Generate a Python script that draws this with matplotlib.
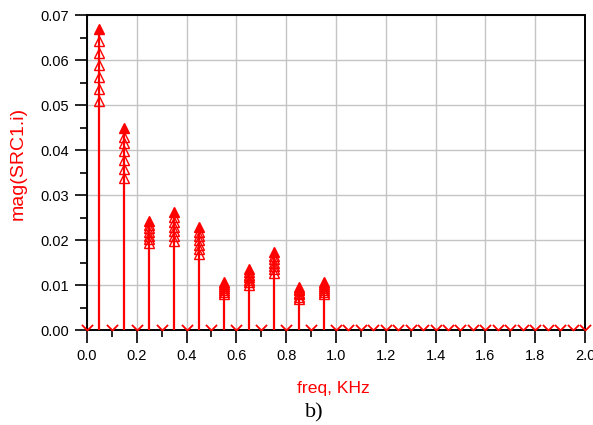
import numpy as np
import matplotlib
matplotlib.use("Agg")
import matplotlib.pyplot as plt
from matplotlib.path import Path

# harmonic frequencies (kHz) with non-zero magnitude
harm_freq = [0.05, 0.15, 0.25, 0.35, 0.45, 0.55, 0.65, 0.75, 0.85, 0.95]
# stacked sweep values at each harmonic (top first)
harm_vals = [
    [0.0670, 0.0643, 0.0616, 0.0590, 0.0562, 0.0535, 0.0509],
    [0.0449, 0.0430, 0.0415, 0.0397, 0.0378, 0.0358, 0.0338],
    [0.0242, 0.0234, 0.0226, 0.0218, 0.0210, 0.0202, 0.0194],
    [0.0263, 0.0252, 0.0241, 0.0230, 0.0219, 0.0208, 0.0197],
    [0.0228, 0.0218, 0.0209, 0.0199, 0.0189, 0.0180, 0.0170],
    [0.0107, 0.0102, 0.0098, 0.0094, 0.0089, 0.0085, 0.0080],
    [0.0135, 0.0129, 0.0123, 0.0118, 0.0112, 0.0106, 0.0100],
    [0.0173, 0.0165, 0.0158, 0.0150, 0.0142, 0.0135, 0.0127],
    [0.0096, 0.0092, 0.0088, 0.0083, 0.0079, 0.0074, 0.0070],
    [0.0107, 0.0102, 0.0098, 0.0094, 0.0089, 0.0085, 0.0080],
]
# frequencies with zero magnitude
zero_freq = [0.0, 0.1, 0.2, 0.3, 0.4, 0.5, 0.6, 0.7, 0.8, 0.9, 1.0,
             1.05, 1.1, 1.15, 1.2, 1.25, 1.3, 1.35, 1.4, 1.45, 1.5,
             1.55, 1.6, 1.65, 1.7, 1.75, 1.8, 1.85, 1.9, 1.95, 2.0]
zero_vals = [0.0] * len(zero_freq)

xticks = [0.0, 0.2, 0.4, 0.6, 0.8, 1.0, 1.2, 1.4, 1.6, 1.8, 2.0]
yticks = [0.00, 0.01, 0.02, 0.03, 0.04, 0.05, 0.06, 0.07]

RED = "#ff0000"
fig = plt.figure(figsize=(5.93, 4.25), dpi=100)
ax = fig.add_axes([0.1467, 0.2235, 0.8398, 0.7412])

ax.grid(True, color="#c4c4c4", linewidth=1.0, zorder=0)
ax.set_axisbelow(True)

for f, vals in zip(harm_freq, harm_vals):
    ax.plot([f, f], [0, max(vals)], color=RED, linewidth=1.6, zorder=3,
            solid_capstyle="butt")
    ax.plot([f] * (len(vals) - 1), vals[1:], linestyle="none", marker="^",
            markersize=6.5, markerfacecolor="none", markeredgecolor=RED,
            markeredgewidth=1.0, zorder=4)
    ax.plot([f], [vals[0]], linestyle="none", marker="^", markersize=6.5,
            markerfacecolor=RED, markeredgecolor=RED, markeredgewidth=1.0,
            zorder=5)

chevron = Path([(-1, 1), (0, 0), (1, 1)],
               [Path.MOVETO, Path.LINETO, Path.LINETO])
ax.plot(zero_freq, zero_vals, linestyle="none", marker=chevron,
        markersize=8, markerfacecolor="none", markeredgecolor=RED,
        markeredgewidth=1.3, zorder=6, clip_on=False)

ax.set_xlim(0, 2.0)
ax.set_ylim(0, 0.07)
ax.set_xticks(xticks)
ax.set_xticklabels([f"{t:.1f}" for t in xticks])
ax.set_yticks(yticks)
ax.set_yticklabels([f"{t:.2f}" for t in yticks])
ax.set_xticks(np.arange(0.1, 2.0, 0.2), minor=True)
ax.set_yticks(np.arange(0.005, 0.07, 0.01), minor=True)

lab_font = dict(family="Liberation Sans", size=10.5)
for lbl in ax.get_xticklabels() + ax.get_yticklabels():
    lbl.set_fontfamily("Liberation Sans")
    lbl.set_fontsize(10.5)
ax.tick_params(which="major", direction="out", length=9, width=1.2,
               color="black", pad=4)
ax.tick_params(which="minor", direction="out", length=5, width=1.2,
               color="black")
ax.tick_params(axis="x", which="major", pad=5)
for s in ax.spines.values():
    s.set_linewidth(1.4)
    s.set_color("black")

fig.text(18 / 593, 1 - 163 / 425, "mag(SRC1.i)", rotation=90, color=RED,
         ha="center", va="center", family="Liberation Sans", fontsize=14)
fig.text(333 / 593, 1 - 388 / 425, "freq, KHz", color=RED, ha="center",
         va="center", family="Liberation Sans", fontsize=12.6)
fig.text(314 / 593, 1 - 413 / 425, "b)", color="black", ha="center",
         va="center", family="Liberation Serif", fontsize=16)

fig.savefig("out.png", dpi=100)
